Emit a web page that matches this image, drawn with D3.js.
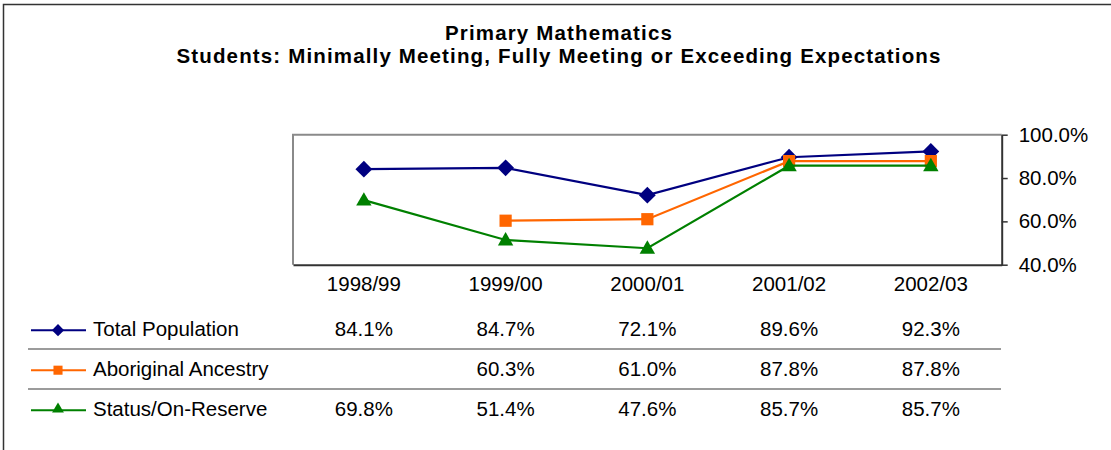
<!DOCTYPE html>
<html>
<head>
<meta charset="utf-8">
<script src="https://cdn.jsdelivr.net/npm/d3@7"></script>
<style>
  body { margin: 0; background: #fff; }
  svg { display: block; font-family: Arial, "Liberation Sans", sans-serif; }
</style>
</head>
<body>
<div id="chart"></div>
<script>
// Data
const years = ["1998/99", "1999/00", "2000/01", "2001/02", "2002/03"];
const totalPopulation = [0.841, 0.847, 0.721, 0.896, 0.923];
const aboriginalAncestry = [null, 0.603, 0.610, 0.878, 0.878];
const statusOnReserve = [0.698, 0.514, 0.476, 0.857, 0.857];
const yTicks = [0.4, 0.6, 0.8, 1.0];
const titleLines = ["Primary Mathematics", "Students: Minimally Meeting, Fully Meeting or Exceeding Expectations"];

const series = [
  { name: "Total Population", values: totalPopulation, color: "#000080", shape: "diamond" },
  { name: "Aboriginal Ancestry", values: aboriginalAncestry, color: "#FF6600", shape: "square" },
  { name: "Status/On-Reserve", values: statusOnReserve, color: "#008000", shape: "triangle" }
];

const fullWidth = 1111, fullHeight = 450;
const plot = { left: 293, right: 1001.7, top: 134.7, bottom: 264.7 };
const labelFont = "20.5px";

const svg = d3.select("#chart").append("svg")
  .attr("width", fullWidth)
  .attr("height", fullHeight);

// Outer frame (runs past the right/bottom edge)
svg.append("rect")
  .attr("x", 3.5).attr("y", 4.5)
  .attr("width", fullWidth + 10).attr("height", fullHeight + 10)
  .attr("fill", "none").attr("stroke", "#333").attr("stroke-width", 1.5);

// Title
svg.selectAll("text.title")
  .data(titleLines)
  .enter().append("text")
  .attr("class", "title")
  .attr("x", 559)
  .attr("y", (d, i) => 39.5 + i * 23.5)
  .attr("text-anchor", "middle")
  .style("font-size", "20.5px")
  .style("font-weight", "bold")
  .style("letter-spacing", "1.15px")
  .text(d => d);

// Scales
const x = d3.scaleBand().domain(years).range([plot.left, plot.right]);
const y = d3.scaleLinear().domain([0.4, 1.0]).range([plot.bottom, plot.top]);
const cx = d => x(d) + x.bandwidth() / 2;

// Plot frame: gray top/left
svg.append("path")
  .attr("d", `M${plot.left},${plot.bottom}V${plot.top}H${plot.right}`)
  .attr("fill", "none").attr("stroke", "#8a8a8a").attr("stroke-width", 2);

// Bottom axis (category labels)
const xAxis = svg.append("g")
  .attr("transform", `translate(0,${plot.bottom})`)
  .call(d3.axisBottom(x).tickSize(0).tickPadding(12));
xAxis.select(".domain").attr("stroke", "#333").attr("stroke-width", 2);
xAxis.selectAll("text").style("font-size", labelFont).style("font-family", "Arial, 'Liberation Sans', sans-serif").attr("fill", "#000");

// Right value axis
const yAxis = svg.append("g")
  .attr("transform", `translate(${plot.right},0)`)
  .call(d3.axisRight(y).tickValues(yTicks).tickFormat(d3.format(".1%")).tickSize(6).tickSizeOuter(0).tickPadding(11));
yAxis.select(".domain").attr("stroke", "#333").attr("stroke-width", 2);
yAxis.selectAll("line").attr("stroke", "#333").attr("stroke-width", 1.5);
yAxis.selectAll("text").style("font-size", labelFont).style("font-family", "Arial, 'Liberation Sans', sans-serif").attr("fill", "#000");

// Marker shapes
const symbolFor = (shape, big) => {
  const t = shape === "diamond" ? d3.symbolDiamond2 : shape === "square" ? d3.symbolSquare2 : d3.symbolTriangle2;
  const s = big ? (shape === "diamond" ? 180 : shape === "square" ? 190 : 170) : (shape === "diamond" ? 95 : shape === "square" ? 105 : 100);
  return d3.symbol().type(t).size(s)();
};

// Lines and markers
const line = d3.line()
  .defined(d => d.v != null)
  .x(d => cx(d.year))
  .y(d => y(d.v));

series.forEach(s => {
  const pts = years.map((year, i) => ({ year, v: s.values[i] }));
  svg.append("path")
    .datum(pts)
    .attr("d", line)
    .attr("fill", "none")
    .attr("stroke", s.color)
    .attr("stroke-width", 2.2);
  svg.selectAll(null)
    .data(pts.filter(d => d.v != null))
    .enter().append("path")
    .attr("d", symbolFor(s.shape, true))
    .attr("transform", d => `translate(${cx(d.year)},${y(d.v) + (s.shape === "triangle" ? 1 : 0)})`)
    .attr("fill", s.color);
});

// Data table
const rowBase = 335.7, rowStep = 40;
const fmt = d3.format(".1%");

series.forEach((s, r) => {
  const base = rowBase + r * rowStep;
  const mid = base - 5.5;
  svg.append("line")
    .attr("x1", 31).attr("x2", 86)
    .attr("y1", mid).attr("y2", mid)
    .attr("stroke", s.color).attr("stroke-width", 2);
  svg.append("path")
    .attr("d", symbolFor(s.shape, false))
    .attr("transform", `translate(58,${mid + (s.shape === "triangle" ? -1 : 0)})`)
    .attr("fill", s.color);
  svg.append("text")
    .attr("x", 93).attr("y", base)
    .style("font-size", labelFont)
    .text(s.name);
  svg.selectAll(null)
    .data(years.map((year, i) => ({ year, v: s.values[i] })).filter(d => d.v != null))
    .enter().append("text")
    .attr("x", d => cx(d.year))
    .attr("y", base)
    .attr("text-anchor", "middle")
    .style("font-size", labelFont)
    .text(d => fmt(d.v));
  if (r < series.length - 1) {
    svg.append("line")
      .attr("x1", 28).attr("x2", 1001)
      .attr("y1", base + 13.3).attr("y2", base + 13.3)
      .attr("stroke", "#7a7a7a").attr("stroke-width", 1.6);
  }
});
</script>
</body>
</html>
